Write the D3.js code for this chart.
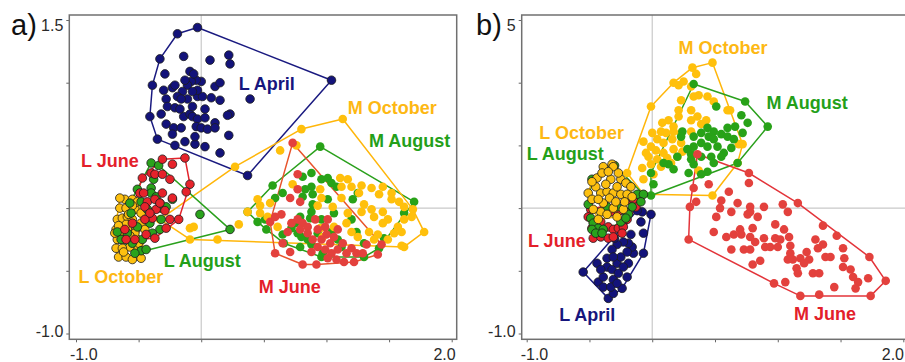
<!DOCTYPE html>
<html>
<head>
<meta charset="utf-8">
<script src="https://cdn.jsdelivr.net/npm/d3@7"></script>
<style>
  body { margin: 0; background: #fff; }
  svg { display: block; }
</style>
</head>
<body>
<div id="chart"></div>
<script>
// ---- data: panel a) ----
var aLApril = [[-0.03,1.44],[-0.19,1.39],[-0.33,1.19],[-0.39,0.98],[-0.41,0.73],[-0.35,0.55],[-0.21,0.50],[-0.13,0.53],[-0.05,0.51],[0.03,0.49],[0.15,0.44],[0.37,0.26],[1.04,1.02],[0.22,1.22],[0.23,1.15],[0.07,1.18],[-0.14,1.21],[0.39,0.87],[0.22,0.58],[0.11,0.68],[-0.29,1.07],[-0.30,0.94],[-0.23,0.96],[-0.28,0.87],[-0.27,0.81],[-0.32,0.75],[-0.28,0.67],[-0.22,0.64],[-0.23,0.59],[-0.16,0.64],[-0.14,0.73],[-0.09,0.75],[-0.07,0.73],[-0.03,0.71],[0.03,0.72],[-0.04,0.65],[-0.05,0.57],[0.00,0.64],[0.05,0.63],[0.11,0.64],[0.23,0.75],[0.21,0.74],[0.03,0.79],[-0.07,0.81],[-0.11,0.87],[-0.03,0.89],[0.01,0.89],[0.08,0.88],[0.15,0.86],[0.11,0.97],[0.15,1.00],[0.00,1.01],[-0.04,1.02],[-0.08,1.01],[-0.11,0.98],[-0.15,0.93],[-0.19,0.89],[-0.21,0.80],[-0.17,0.79],[-0.13,1.02],[-0.09,1.09],[-0.06,1.07],[-0.16,0.87],[-0.21,0.98],[-0.03,0.94],[-0.07,0.93]];
var aLJune = [[-0.31,0.39],[-0.13,0.40],[-0.23,0.35],[-0.40,0.28],[-0.37,0.27],[-0.31,0.27],[-0.47,0.24],[-0.25,0.23],[-0.09,0.19],[-0.12,0.13],[-0.49,0.12],[-0.46,0.12],[-0.31,0.12],[-0.43,0.05],[-0.37,0.07],[-0.23,0.08],[-0.45,0.01],[-0.36,-0.01],[-0.29,-0.02],[-0.18,-0.09],[-0.25,-0.09],[-0.28,-0.16],[-0.39,-0.08],[-0.45,-0.09],[-0.55,-0.12],[-0.61,-0.17],[-0.53,-0.25],[-0.44,-0.21],[-0.37,-0.24],[-0.60,-0.25],[-0.41,-0.04],[-0.33,0.04]];
var aLAugust = [[-0.40,0.36],[-0.34,0.34],[-0.51,0.15],[-0.40,0.16],[-0.40,0.12],[-0.48,0.05],[-0.33,0.04],[-0.32,0.00],[-0.23,0.07],[-0.01,-0.05],[0.23,-0.17],[-0.32,-0.09],[-0.33,-0.17],[-0.41,-0.12],[-0.51,-0.15],[-0.59,-0.20],[-0.55,-0.28],[-0.48,-0.34],[-0.64,-0.25],[-0.67,-0.19],[-0.53,-0.36],[-0.44,-0.33],[-0.43,-0.01],[-0.36,0.09],[-0.56,-0.04],[-0.57,0.04],[-0.28,0.01],[-0.38,0.23],[-0.47,-0.25],[-0.39,-0.20]];
var aLOctober = [[-0.61,0.07],[-0.55,0.07],[-0.65,0.00],[-0.60,0.00],[-0.53,-0.01],[-0.67,-0.09],[-0.63,-0.08],[-0.59,-0.07],[-0.55,-0.09],[-0.68,-0.17],[-0.64,-0.20],[-0.59,-0.17],[-0.52,-0.17],[-0.67,-0.25],[-0.68,-0.32],[-0.66,-0.39],[-0.60,-0.39],[-0.55,-0.41],[-0.48,-0.40],[-0.51,-0.32],[-0.57,-0.31],[-0.63,-0.32],[-0.51,0.05],[-0.48,-0.04],[-0.56,-0.25],[-0.52,-0.24],[-0.63,-0.25],[-0.53,-0.20],[-0.60,-0.13],[-0.48,-0.12],[-0.69,-0.20],[-0.45,-0.17],[-0.65,0.08],[-0.58,-0.05],[-0.62,-0.35],[-0.50,-0.28],[-0.57,-0.22],[-0.66,-0.14],[-0.55,0.02]];
var aMJune = [[0.73,0.52],[0.77,0.27],[0.71,0.08],[0.79,0.05],[0.55,-0.11],[0.59,-0.07],[0.64,-0.05],[0.65,-0.28],[0.59,-0.36],[0.71,-0.35],[0.81,-0.45],[0.92,-0.45],[1.14,-0.43],[1.22,-0.43],[1.41,-0.37],[1.44,-0.29],[1.29,-0.36],[1.32,-0.29],[0.77,-0.09],[0.81,-0.12],[0.85,-0.15],[0.91,-0.09],[0.85,-0.20],[0.93,-0.17],[0.99,-0.15],[1.00,-0.21],[0.96,-0.25],[1.03,-0.28],[1.06,-0.23],[0.93,-0.31],[0.99,-0.33],[1.04,-0.36],[1.09,-0.33],[1.13,-0.28],[1.16,-0.36],[1.20,-0.32],[0.88,-0.35],[1.08,-0.41],[1.01,-0.40],[0.72,-0.12],[0.69,-0.19],[1.24,-0.36],[1.01,-0.09],[1.09,-0.17],[0.89,-0.25],[0.79,-0.17],[0.77,0.15]];
var aMAugust = [[0.95,0.49],[1.70,0.05],[0.57,0.18],[0.37,-0.03],[0.45,-0.11],[0.52,-0.17],[0.66,-0.28],[0.96,-0.39],[1.30,-0.39],[1.46,-0.24],[1.62,-0.04],[0.88,0.28],[0.81,0.25],[0.96,0.23],[1.01,0.24],[1.04,0.20],[1.08,0.17],[0.88,0.17],[0.83,0.15],[0.81,0.09],[0.89,0.11],[0.89,0.03],[0.88,-0.03],[0.87,-0.08],[0.79,-0.07],[0.75,-0.12],[0.77,-0.20],[0.85,-0.25],[0.88,-0.29],[1.25,0.12],[1.21,0.07],[1.20,-0.09],[1.24,-0.19],[1.30,-0.28],[1.42,-0.32],[1.04,-0.19],[1.09,-0.25],[0.96,-0.09],[0.65,0.12],[0.59,0.08],[0.51,-0.09],[0.65,-0.21],[1.01,0.07],[1.06,-0.04],[0.72,-0.16],[0.80,-0.23],[0.93,-0.20],[1.12,-0.31],[0.97,-0.36],[0.79,-0.31]];
var aMOctober = [[-0.33,-0.09],[-0.09,-0.25],[0.13,-0.25],[-0.09,-0.16],[-0.06,-0.15],[0.30,-0.13],[0.27,0.33],[0.80,0.63],[1.13,0.71],[0.63,0.46],[0.76,0.50],[0.73,0.19],[0.45,0.07],[0.47,0.02],[0.55,0.04],[0.37,-0.03],[0.47,-0.04],[0.53,-0.07],[0.61,-0.15],[0.95,0.15],[0.96,0.08],[0.93,0.02],[0.95,-0.16],[0.97,-0.23],[1.06,-0.15],[1.11,0.24],[1.17,0.23],[1.12,0.17],[1.20,0.17],[1.28,0.18],[1.36,0.16],[1.45,0.17],[1.52,0.12],[1.42,0.11],[1.52,0.07],[1.58,0.05],[1.62,0.01],[1.69,-0.01],[1.68,-0.07],[1.62,-0.09],[1.57,-0.15],[1.60,-0.19],[1.54,-0.20],[1.49,-0.09],[1.45,-0.03],[1.36,-0.01],[1.30,0.03],[1.28,-0.03],[1.38,-0.07],[1.45,-0.12],[1.41,-0.21],[1.49,-0.25],[1.60,-0.30],[1.62,-0.31],[1.78,-0.19],[1.17,-0.04],[1.16,-0.12],[1.20,-0.19],[1.25,-0.23],[1.34,-0.19],[1.38,-0.25],[1.12,0.08],[1.05,0.01],[1.26,0.12]];

// ---- data: panel b) ----
var bLApril = [[-0.55,-0.51],[-0.44,-0.44],[-0.43,-0.59],[-0.39,-0.63],[-0.35,-0.72],[-0.31,-0.68],[-0.24,-0.64],[-0.20,-0.55],[-0.19,-0.44],[-0.15,-0.36],[-0.07,-0.36],[-0.07,-0.20],[-0.09,-0.11],[-0.08,-0.03],[-0.01,-0.05],[-0.16,-0.31],[-0.19,-0.28],[-0.23,-0.27],[-0.28,-0.29],[-0.32,-0.33],[-0.36,-0.40],[-0.36,-0.47],[-0.32,-0.49],[-0.28,-0.44],[-0.25,-0.39],[-0.31,-0.39],[-0.39,-0.55],[-0.31,-0.57],[-0.27,-0.52],[-0.20,-0.35],[-0.33,-0.63],[-0.41,-0.49],[-0.28,-0.60],[-0.23,-0.47],[-0.17,-0.21],[-0.12,-0.02],[-0.30,-0.24]];
var bLJune = [[-0.49,-0.01],[-0.51,-0.07],[-0.33,-0.03],[-0.27,-0.03],[-0.16,0.05],[-0.13,0.01],[-0.41,-0.11],[-0.35,-0.15],[-0.31,-0.17],[-0.27,-0.16],[-0.23,-0.15],[-0.47,-0.24],[-0.41,-0.23],[-0.35,-0.24],[-0.31,-0.23],[-0.24,-0.20],[-0.20,-0.09],[-0.48,-0.16],[-0.15,0.07]];
var bLAugust = [[-0.48,0.23],[-0.12,0.11],[-0.07,0.11],[-0.16,0.01],[-0.21,-0.03],[-0.19,-0.05],[-0.49,-0.08],[-0.47,-0.12],[-0.43,-0.16],[-0.39,-0.17],[-0.25,-0.11],[-0.21,-0.08],[-0.28,0.01],[-0.36,0.01],[-0.48,-0.17],[-0.45,-0.20],[-0.40,-0.20],[-0.30,0.34],[-0.09,0.05],[-0.51,0.03]];
var bLOctober = [[-0.44,0.24],[-0.39,0.33],[-0.32,0.35],[-0.31,0.33],[-0.25,0.23],[-0.21,0.20],[-0.17,0.17],[-0.41,0.12],[-0.36,0.13],[-0.31,0.12],[-0.25,0.11],[-0.20,0.11],[-0.16,0.09],[-0.45,0.17],[-0.51,0.12],[-0.48,0.07],[-0.39,0.04],[-0.31,0.00],[-0.23,-0.01],[-0.41,-0.03],[-0.47,-0.01],[-0.36,-0.05],[-0.28,-0.07],[-0.43,-0.09],[-0.33,0.23],[-0.37,0.19],[-0.28,0.17],[-0.48,0.21],[-0.40,0.28],[-0.35,0.29],[-0.27,0.28],[-0.43,0.07],[-0.34,0.08],[-0.22,0.05],[-0.29,0.05]];
var bMJune = [[0.36,0.43],[0.33,0.16],[0.35,0.05],[0.30,0.01],[0.29,-0.25],[0.45,0.19],[0.77,0.28],[0.77,0.20],[0.61,0.13],[0.55,0.06],[0.68,0.04],[0.54,0.00],[0.63,-0.03],[0.78,0.01],[0.78,-0.03],[0.76,-0.05],[0.84,-0.07],[0.89,0.01],[1.04,0.03],[1.08,-0.03],[1.16,0.04],[0.51,-0.07],[0.98,-0.13],[1.05,-0.17],[1.36,-0.14],[1.47,-0.22],[0.49,-0.19],[0.59,-0.23],[0.65,-0.21],[0.70,-0.17],[0.71,-0.21],[0.80,-0.16],[0.78,-0.23],[0.82,-0.27],[0.89,-0.24],[0.98,-0.24],[1.02,-0.25],[1.09,-0.23],[0.63,-0.33],[0.73,-0.33],[0.78,-0.33],[0.90,-0.31],[0.94,-0.31],[1.00,-0.31],[1.10,-0.30],[1.10,-0.36],[1.08,-0.41],[1.12,-0.41],[1.18,-0.40],[1.23,-0.35],[1.25,-0.41],[1.21,-0.44],[1.15,-0.48],[1.16,-0.52],[1.28,-0.52],[1.33,-0.52],[1.30,-0.25],[1.32,-0.32],[1.36,-0.29],[1.38,-0.39],[1.42,-0.39],[1.52,-0.32],[1.53,-0.40],[1.52,-0.47],[1.58,-0.49],[1.60,-0.55],[1.64,-0.59],[1.62,-0.64],[1.72,-0.56],[1.73,-0.39],[1.86,-0.58],[1.74,-0.70],[1.33,-0.69],[1.18,-0.70],[0.97,-0.60],[1.06,-0.59],[1.45,-0.63],[0.80,-0.45],[0.86,-0.42]];
var bMAugust = [[0.33,0.99],[0.74,0.85],[0.92,0.65],[0.51,0.81],[0.71,0.74],[0.76,0.68],[0.72,0.60],[0.60,0.64],[0.55,0.59],[0.49,0.61],[0.44,0.64],[0.39,0.60],[0.33,0.57],[0.45,0.57],[0.49,0.55],[0.60,0.57],[0.65,0.55],[0.66,0.65],[0.63,0.48],[0.57,0.44],[0.52,0.49],[0.44,0.49],[0.39,0.52],[0.33,0.49],[0.28,0.47],[0.31,0.43],[0.39,0.41],[0.47,0.41],[0.55,0.41],[0.49,0.36],[0.44,0.29],[0.39,0.27],[0.33,0.35],[0.31,0.39],[0.13,0.35],[0.09,0.36],[0.17,0.31],[0.29,0.28],[0.20,0.41],[-0.01,0.28],[0.01,0.19],[-0.01,0.10],[0.24,0.61],[0.23,0.57],[0.68,0.36]];
var bMOctober = [[-0.20,0.28],[-0.01,0.81],[0.21,0.98],[0.32,1.12],[0.48,1.16],[0.62,0.78],[0.72,0.51],[0.68,0.36],[0.48,0.10],[-0.07,0.11],[0.17,1.00],[0.25,1.01],[0.35,1.07],[0.31,0.97],[0.33,0.89],[0.37,0.90],[0.44,0.89],[0.49,0.85],[0.21,0.78],[0.23,0.86],[0.13,0.70],[0.08,0.68],[0.17,0.65],[0.21,0.73],[0.31,0.78],[0.31,0.70],[0.36,0.73],[0.43,0.70],[0.07,0.61],[0.11,0.60],[0.17,0.61],[0.23,0.60],[0.04,0.55],[0.09,0.52],[0.16,0.55],[0.23,0.52],[-0.01,0.49],[0.03,0.46],[0.09,0.44],[0.17,0.47],[0.24,0.45],[-0.07,0.53],[-0.03,0.41],[0.04,0.39],[0.12,0.40],[0.20,0.41],[-0.08,0.32],[-0.01,0.35],[0.07,0.33],[0.15,0.36],[0.01,0.27],[-0.07,0.23],[0.39,0.67],[0.31,0.61],[0.37,0.30],[0.60,0.78],[0.69,0.51],[0.00,0.60],[-0.05,0.44]];

// ---- axes ----
var xTickValues = [-1.0, -0.5, 0, 0.5, 1.0, 1.5, 2.0];
var yTickValues = [-1.0, -0.5, 0, 0.5, 1.0, 1.5];
var xTickLabels = ["-1.0", "2.0"];          // shown at -1 and 2
var yTickLabelsA = ["1.5", "-1.0"];         // shown at 1.5 and -1
var yTickLabelsB = ["5", "-1.0"];

var fillColor = {
    "L April": "#13137a", "L June": "#e6232b", "L August": "#2aa31c", "L October": "#fdc010",
    "M June": "#e3413d", "M August": "#28a218", "M October": "#ffc00c"
};
var lineColor = {
    "L April": "#1a1a80", "L June": "#e3232b", "L August": "#2aa01c", "L October": "#f9b90c",
    "M June": "#e3343a", "M August": "#2aa01c", "M October": "#ffb60a"
};
var textColor = {
    "L April": "#16167d", "L June": "#e3202a", "L August": "#24a019", "L October": "#fdb813",
    "M June": "#e3202a", "M August": "#24a019", "M October": "#fdb813"
};

var font = "'Liberation Sans', Arial, sans-serif";

var svg = d3.select("#chart")
    .append("svg")
    .attr("width", 905)
    .attr("height", 362);

var panels = [
    {
        tag: "a)", tagX: 11,
        frame: { left: 69.3, top: 15, right: 456.7, bottom: 339.3 },
        xRange: [76, 451.7],
        yLabels: yTickLabelsA,
        data: { "L April": aLApril, "L June": aLJune, "L August": aLAugust, "L October": aLOctober,
                "M June": aMJune, "M August": aMAugust, "M October": aMOctober },
        order: ["L April", "M August", "M October", "M June", "L October", "L August", "L June"],
        hullOverride: { "M June": "#e8532b" },
        // label anchors in data units (start x, baseline y)
        labels: { "L April": [0.30, 0.94], "M October": [1.17, 0.75], "M August": [1.34, 0.49],
                  "L June": [-0.96, 0.33], "L August": [-0.30, -0.47], "L October": [-0.98, -0.60],
                  "M June": [0.46, -0.68] }
    },
    {
        tag: "b)", tagX: 476,
        frame: { left: 521.7, top: 15, right: 909, bottom: 339.3 },
        xRange: [526.7, 903.3],
        yLabels: yTickLabelsB,
        data: { "L April": bLApril, "L June": bLJune, "L August": bLAugust, "L October": bLOctober,
                "M June": bMJune, "M August": bMAugust, "M October": bMOctober },
        order: ["L April", "M October", "M August", "M June", "L June", "L August", "L October"],
        hullOverride: {},
        labels: { "M October": [0.21, 1.23], "M August": [0.91, 0.79], "L October": [-0.90, 0.55],
                  "L August": [-1.00, 0.38], "L June": [-0.99, -0.31], "L April": [-0.74, -0.90],
                  "M June": [1.13, -0.89] }
    }
];

panels.forEach(drawPanel);

function drawPanel(p) {
    var f = p.frame;
    var x = d3.scaleLinear().domain([-1, 2]).range(p.xRange);
    var y = d3.scaleLinear().domain([-1, 1.5]).range([333.5, 20]);
    var g = svg.append("g");

    // zero lines
    g.append("line")
        .attr("x1", f.left).attr("x2", f.right)
        .attr("y1", y(0)).attr("y2", y(0))
        .attr("stroke", "#c9c9c9").attr("stroke-width", 1.2);
    g.append("line")
        .attr("x1", x(0)).attr("x2", x(0))
        .attr("y1", f.top).attr("y2", f.bottom)
        .attr("stroke", "#c9c9c9").attr("stroke-width", 1.2);

    // ticks
    g.append("g")
        .attr("transform", "translate(" + f.left + ",0)")
        .call(d3.axisLeft(y).tickValues(yTickValues).tickSize(3).tickFormat(""))
        .call(a => a.select(".domain").remove())
        .call(a => a.selectAll("line").attr("stroke", "#666"));
    g.append("g")
        .attr("transform", "translate(0," + f.bottom + ")")
        .call(d3.axisBottom(x).tickValues(xTickValues).tickSize(3).tickFormat(""))
        .call(a => a.select(".domain").remove())
        .call(a => a.selectAll("line").attr("stroke", "#666"));

    // frame
    g.append("rect")
        .attr("x", f.left).attr("y", f.top)
        .attr("width", f.right - f.left).attr("height", f.bottom - f.top)
        .attr("fill", "none").attr("stroke", "#707070").attr("stroke-width", 1.5);

    // tick labels
    [1.5, -1.0].forEach(function (v, i) {
        g.append("text")
            .attr("x", f.left - 6)
            .attr("y", y(v) + (v > 0 ? 11 : 3))
            .attr("text-anchor", "end")
            .attr("font-family", font).attr("font-size", 16).attr("fill", "#2a2a2a")
            .text(p.yLabels[i]);
    });
    [-1.0, 2.0].forEach(function (v, i) {
        g.append("text")
            .attr("x", v < 0 ? x(v) - 6 : Math.min(x(v) + 4, 904))
            .attr("y", 360)
            .attr("text-anchor", v < 0 ? "start" : "end")
            .attr("font-family", font).attr("font-size", 16).attr("fill", "#2a2a2a")
            .text(xTickLabels[i]);
    });

    // panel tag
    svg.append("text")
        .attr("x", p.tagX).attr("y", 35)
        .attr("font-family", font).attr("font-size", 29).attr("fill", "#111")
        .text(p.tag);

    // hulls
    p.order.forEach(function (name) {
        var pts = p.data[name].map(d => [x(d[0]), y(d[1])]);
        var hull = d3.polygonHull(pts);
        g.append("path")
            .attr("d", "M" + hull.join("L") + "Z")
            .attr("fill", "none")
            .attr("stroke", p.hullOverride[name] || lineColor[name])
            .attr("stroke-width", 1.5)
            .attr("stroke-linejoin", "round");
    });

    // points
    p.order.forEach(function (name) {
        var isL = name.charAt(0) === "L";
        g.append("g").selectAll("circle")
            .data(p.data[name])
            .join("circle")
            .attr("cx", d => x(d[0]))
            .attr("cy", d => y(d[1]))
            .attr("r", 4.3)
            .attr("fill", fillColor[name])
            .attr("stroke", isL ? "#1d1d1d" : "none")
            .attr("stroke-width", 0.8);
    });

    // group labels
    Object.keys(p.labels).forEach(function (name) {
        var pos = p.labels[name];
        g.append("text")
            .attr("x", x(pos[0]))
            .attr("y", y(pos[1]))
            .attr("font-family", font).attr("font-size", 18).attr("font-weight", 700)
            .attr("fill", textColor[name])
            .text(name);
    });
}
</script>
</body>
</html>
